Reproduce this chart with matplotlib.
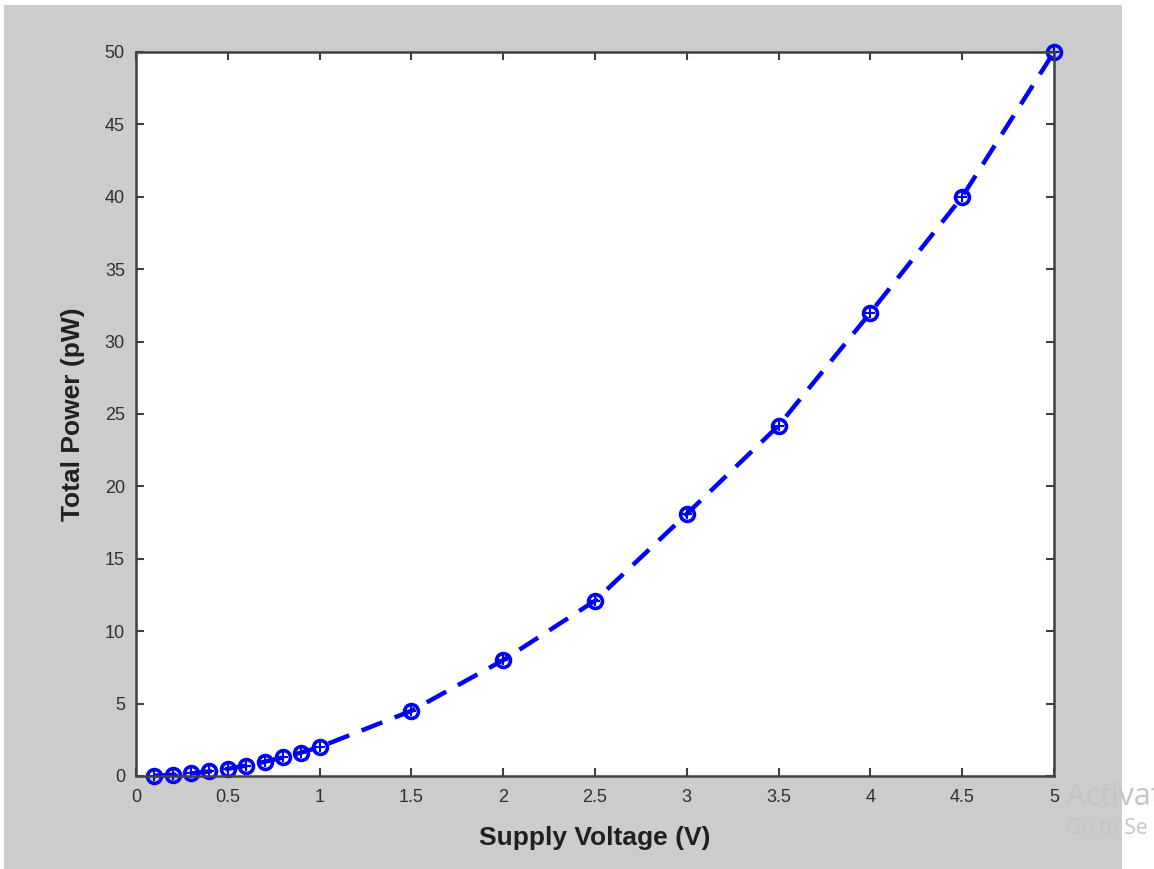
import matplotlib.pyplot as plt
from matplotlib.patches import Rectangle

# supply voltage (V) and total power (pW)
voltage = [0.1, 0.2, 0.3, 0.4, 0.5, 0.6, 0.7, 0.8, 0.9, 1.0,
           1.5, 2.0, 2.5, 3.0, 3.5, 4.0, 4.5, 5.0]
power = [0.02, 0.08, 0.18, 0.32, 0.5, 0.72, 0.98, 1.28, 1.62, 2.0,
         4.5, 8.0, 12.1, 18.1, 24.2, 32.0, 40.0, 50.0]
xticks = [0, 0.5, 1, 1.5, 2, 2.5, 3, 3.5, 4, 4.5, 5]
xticklabels = ['0', '0.5', '1', '1.5', '2', '2.5', '3', '3.5', '4', '4.5', '5']
yticks = [0, 5, 10, 15, 20, 25, 30, 35, 40, 45, 50]

plt.rcParams['font.family'] = ['Liberation Sans', 'DejaVu Sans']

fig = plt.figure(figsize=(11.54, 8.69), dpi=100, facecolor='white')
# grey window background
fig.patches.append(Rectangle((4/1154, 0), 1118/1154, 1 - 5/869,
                             transform=fig.transFigure, facecolor='#cccccc',
                             edgecolor='none', zorder=-10))

ax = fig.add_axes([136/1154, 1 - 776/869, 918/1154, 724/869])
ax.set_facecolor('white')

ax.plot(voltage, power, '--', color='#0000ff', linewidth=3.2, dashes=(5, 3),
        marker='o', markersize=10, markerfacecolor='none',
        markeredgecolor='#0000ff', markeredgewidth=2.6, clip_on=False)
ax.plot(voltage, power, linestyle='none', marker='+', markersize=7,
        color='#0000ff', markeredgewidth=1.5, clip_on=False)

ax.set_xlim(0, 5)
ax.set_ylim(0, 50)
ax.set_xticks(xticks)
ax.set_xticklabels(xticklabels)
ax.set_yticks(yticks)
ax.tick_params(direction='in', length=6, width=1.5, color='#404040',
               top=True, right=True, labelsize=13, labelcolor='#303030')
ax.tick_params(axis='x', pad=9)
ax.tick_params(axis='y', pad=8)
for s in ax.spines.values():
    s.set_color('#404040')
    s.set_linewidth(1.8)

ax.set_xlabel('Supply Voltage (V)', fontsize=19, fontweight='bold',
              color='#202020', labelpad=15)
ax.set_ylabel('Total Power (pW)', fontsize=19, fontweight='bold',
              color='#202020', labelpad=14)

# Windows watermark text visible in the screenshot
fig.text(1066/1154, 1 - 797/869, 'Activat', fontsize=22, color='#c4c4c4',
         va='center', ha='left', family='Open Sans')
fig.text(1066/1154, 1 - 829/869, 'Go to Se', fontsize=15, color='#c4c4c4',
         va='center', ha='left', family='Open Sans')

plt.savefig('out.png', dpi=100)
